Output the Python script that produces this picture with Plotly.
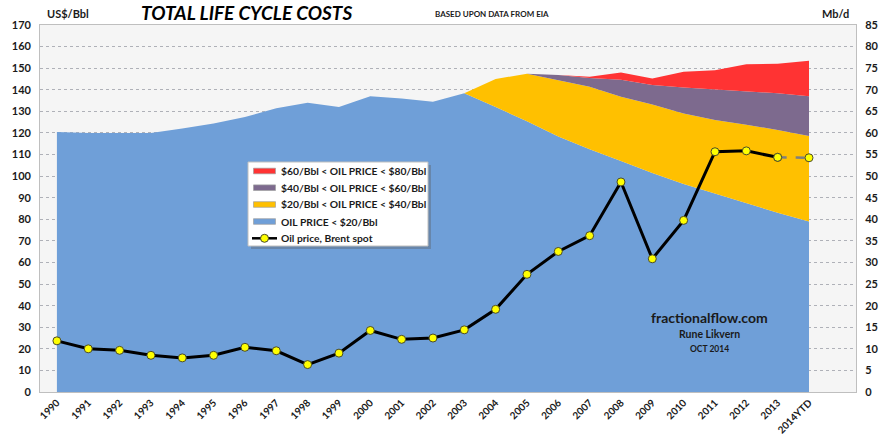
import plotly.graph_objects as go

years = ["1990","1991","1992","1993","1994","1995","1996","1997","1998","1999",
         "2000","2001","2002","2003","2004","2005","2006","2007","2008","2009",
         "2010","2011","2012","2013","2014YTD"]

# Supply volumes, Mb/d (right axis), stacked
blue_mbd = [60.2, 60.0, 60.0, 60.0, 61.0, 62.2, 63.7, 65.7, 67.0, 66.0,
            68.5, 68.0, 67.2, 69.2, 66.0, 62.7, 59.2, 56.2, 53.5, 50.7,
            48.2, 46.0, 43.7, 41.5, 39.5]
yellow_mbd = [0, 0, 0, 0, 0, 0, 0, 0, 0, 0,
              0, 0, 0, 0, 6.5, 11.0, 13.0, 14.5, 14.9, 15.9,
              16.3, 17.0, 18.2, 19.2, 19.8]
purple_mbd = [0, 0, 0, 0, 0, 0, 0, 0, 0, 0,
              0, 0, 0, 0, 0, 0, 1.2, 2.0, 3.9, 4.5,
              6.0, 7.1, 7.8, 8.5, 9.2]
red_mbd = [0, 0, 0, 0, 0, 0, 0, 0, 0, 0,
           0, 0, 0, 0, 0, 0, 0, 0.3, 1.7, 1.5,
           3.7, 4.4, 6.2, 6.8, 8.2]

# Brent spot, US$/Bbl (left axis)
brent = [23.7, 20.0, 19.3, 17.0, 15.8, 17.0, 20.7, 19.1, 12.7, 18.0,
         28.5, 24.4, 25.0, 28.8, 38.3, 54.5, 65.1, 72.4, 97.3, 61.7,
         79.5, 111.3, 111.7, 108.7, 108.5]

series_names = ["OIL PRICE < $20/Bbl", "$20/Bbl < OIL PRICE < $40/Bbl",
                "$40/Bbl < OIL PRICE < $60/Bbl", "$60/Bbl < OIL PRICE < $80/Bbl"]
series_vals = [blue_mbd, yellow_mbd, purple_mbd, red_mbd]
series_cols = ["#6F9FD8", "#FFC000", "#7D6A8E", "#FF3333"]
price_name = "Oil price, Brent spot"

FONT = "Lato"
W, H = 881, 441
# plot frame in screen pixels: left 40, right 856, top 25, bottom 392
L, T = 40, 25
R, B = W - 856, H - 392
PW, PH = W - L - R, H - T - B

def px(x):
    return (x - L) / PW

def py(y):
    return (H - B - y) / PH

fig = go.Figure()
for name, vals, col in zip(series_names, series_vals, series_cols):
    fig.add_trace(go.Scatter(x=years, y=vals, name=name, stackgroup="s",
                             mode="lines", line=dict(color=col, width=0),
                             fillcolor=col, yaxis="y", showlegend=False,
                             hoverinfo="skip"))

mk = dict(color="#FFFF00", size=8, line=dict(color="#4A4A2A", width=1))
fig.add_trace(go.Scatter(x=years[-2:], y=brent[-2:], mode="lines+markers",
                         line=dict(color="#7F7F7F", width=2.5, dash="dash"),
                         marker=mk, showlegend=False, yaxis="y2"))
fig.add_trace(go.Scatter(x=years[:-1], y=brent[:-1], mode="lines+markers",
                         name=price_name, showlegend=False,
                         line=dict(color="black", width=3),
                         marker=mk, yaxis="y2"))

# ---- hand-made legend box (matches the reference's compact Excel legend)
shapes = []
annos = []
bx0, bx1, by0, by1 = 248, 428, 162, 246
shapes.append(dict(type="rect", xref="paper", yref="paper",
                   x0=px(bx0 + 3), x1=px(bx1 + 3), y0=py(by0 + 3), y1=py(by1 + 3),
                   fillcolor="rgba(90,90,90,0.35)", line=dict(width=0)))
shapes.append(dict(type="rect", xref="paper", yref="paper",
                   x0=px(bx0), x1=px(bx1), y0=py(by0), y1=py(by1),
                   fillcolor="white", line=dict(color="#BFBFBF", width=1)))
leg_items = list(zip(series_names[::-1], series_cols[::-1]))
rows_y = [171, 187.7, 204.5, 221.5, 238.3]
for (name, col), yc in zip(leg_items, rows_y[:4]):
    shapes.append(dict(type="rect", xref="paper", yref="paper",
                       x0=px(253.5), x1=px(275.5), y0=py(yc + 2.8), y1=py(yc - 2.8),
                       fillcolor=col, line=dict(color="#A0A0A0", width=0.7)))
    annos.append(dict(text="<b>" + name + "</b>", x=px(278.5), y=py(yc),
                      xref="paper", yref="paper", xanchor="left",
                      yanchor="middle", showarrow=False,
                      font=dict(family=FONT, size=10.3, color="#1A1A1A")))
yc = rows_y[4]
shapes.append(dict(type="line", xref="paper", yref="paper",
                   x0=px(252), x1=px(277), y0=py(yc), y1=py(yc),
                   line=dict(color="black", width=2.5)))
shapes.append(dict(type="circle", xref="paper", yref="paper",
                   x0=px(260.5), x1=px(268.5), y0=py(yc + 4), y1=py(yc - 4),
                   fillcolor="#FFFF00", line=dict(color="#4A4A2A", width=1)))
annos.append(dict(text="<b>" + price_name + "</b>", x=px(278.5), y=py(yc),
                  xref="paper", yref="paper", xanchor="left",
                  yanchor="middle", showarrow=False,
                  font=dict(family=FONT, size=10.3, color="#1A1A1A")))

fig.update_layout(
    width=W, height=H,
    margin=dict(l=L, r=R, t=T, b=B, autoexpand=False),
    paper_bgcolor="white", plot_bgcolor="#F5F5F5",
    font=dict(family=FONT, size=11, color="#1A1A1A"),
    showlegend=False,
    xaxis=dict(type="category", range=[-0.54, 25.5], tickangle=-45,
               automargin=False,
               showgrid=False, ticks="", showline=True, linecolor="#BFBFBF",
               mirror=True,
               tickfont=dict(family=FONT, size=10, weight="bold", color="#1A1A1A")),
    yaxis=dict(range=[0, 85], dtick=5, side="right", showgrid=True,
               automargin=False, ticklabelstandoff=6,
               gridcolor="#C8C8C8", griddash="dot", gridwidth=1,
               zeroline=False, showline=True, linecolor="#BFBFBF", mirror=True,
               tickfont=dict(family=FONT, size=11, weight="bold", color="#1A1A1A")),
    yaxis2=dict(range=[0, 170], dtick=10, side="left", overlaying="y",
                automargin=False, showgrid=True, zeroline=False,
                gridcolor="rgba(60,70,110,0.18)", griddash="dot", gridwidth=1,
                ticklabelstandoff=8,
                tickfont=dict(family=FONT, size=11, weight="bold", color="#1A1A1A")),
    shapes=shapes,
    annotations=[
        dict(text="<b><i>TOTAL LIFE CYCLE COSTS</i></b>", x=px(246), y=py(12),
             xref="paper", yref="paper", showarrow=False,
             xanchor="center", yanchor="middle",
             font=dict(family=FONT, size=19, color="black")),
        dict(text="<b>US$/Bbl</b>", x=px(45), y=py(14), xref="paper", yref="paper",
             xanchor="left", yanchor="middle", showarrow=False,
             font=dict(family=FONT, size=11)),
        dict(text="<b>BASED UPON DATA FROM EIA</b>", x=px(433), y=py(14),
             xref="paper", yref="paper", xanchor="left", yanchor="middle",
             showarrow=False, font=dict(family=FONT, size=8)),
        dict(text="<b>Mb/d</b>", x=px(851), y=py(14), xref="paper", yref="paper",
             xanchor="right", yanchor="middle", showarrow=False,
             font=dict(family=FONT, size=11)),
        dict(text="<b>fractionalflow.com</b>", x=px(709), y=py(317), xref="paper",
             yref="paper", showarrow=False, xanchor="center", yanchor="middle",
             font=dict(family=FONT, size=14)),
        dict(text="<b>Rune Likvern</b>", x=px(709), y=py(334), xref="paper",
             yref="paper", showarrow=False, xanchor="center", yanchor="middle",
             font=dict(family=FONT, size=10.5)),
        dict(text="<b>OCT 2014</b>", x=px(709), y=py(349), xref="paper",
             yref="paper", showarrow=False, xanchor="center", yanchor="middle",
             font=dict(family=FONT, size=8.5)),
    ] + annos,
)

fig.write_html("out.html",
               config={"displayModeBar": False},
               post_script="document.body.style.margin='0';"
                           "document.body.style.overflow='hidden';")
